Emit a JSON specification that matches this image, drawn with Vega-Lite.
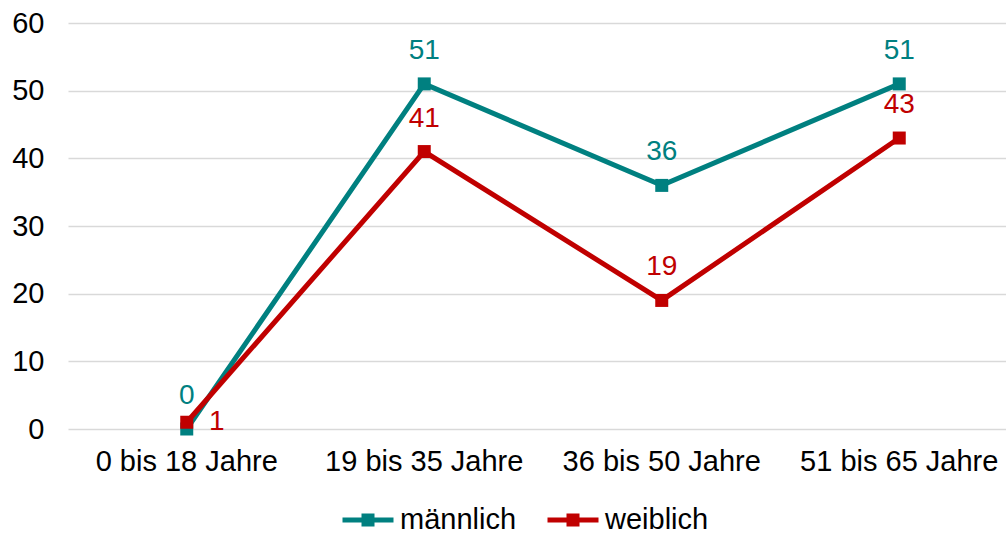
{
  "$schema": "https://vega.github.io/schema/vega-lite/v6.json",
  "width": 938,
  "height": 406,
  "autosize": {"type": "none"},
  "padding": {"left": 68, "top": 23, "right": 0, "bottom": 104},
  "background": "white",
  "config": {
    "font": "Liberation Sans",
    "view": {"stroke": null},
    "axis": {"labelFont": "Liberation Sans", "labelFontSize": 29, "labelColor": "#000000"}
  },
  "data": {
    "values": [
      {"gruppe": "0 bis 18 Jahre", "geschlecht": "männlich", "wert": 0},
      {"gruppe": "19 bis 35 Jahre", "geschlecht": "männlich", "wert": 51},
      {"gruppe": "36 bis 50 Jahre", "geschlecht": "männlich", "wert": 36},
      {"gruppe": "51 bis 65 Jahre", "geschlecht": "männlich", "wert": 51},
      {"gruppe": "0 bis 18 Jahre", "geschlecht": "weiblich", "wert": 1},
      {"gruppe": "19 bis 35 Jahre", "geschlecht": "weiblich", "wert": 41},
      {"gruppe": "36 bis 50 Jahre", "geschlecht": "weiblich", "wert": 19},
      {"gruppe": "51 bis 65 Jahre", "geschlecht": "weiblich", "wert": 43}
    ]
  },
  "encoding": {
    "x": {
      "field": "gruppe", "type": "nominal", "sort": null,
      "scale": {"type": "band", "range": [0, 950], "paddingInner": 0, "paddingOuter": 0},
      "axis": {"title": null, "labelAngle": 0, "ticks": false, "domain": false, "grid": false, "labelPadding": 18, "labelLimit": 0}
    },
    "y": {
      "field": "wert", "type": "quantitative",
      "scale": {"domain": [0, 60], "nice": false},
      "axis": {"title": null, "values": [0, 10, 20, 30, 40, 50, 60], "ticks": false, "domain": false, "labelPadding": 24, "gridColor": "#d9d9d9", "gridWidth": 1.5}
    },
    "color": {
      "field": "geschlecht", "type": "nominal",
      "scale": {"domain": ["männlich", "weiblich"], "range": ["#008080", "#c00000"]}
    }
  },
  "layer": [
    {
      "mark": {"type": "line", "strokeWidth": 5},
      "encoding": {
        "detail": {"field": "geschlecht"}
      }
    },
    {
      "mark": {"type": "point", "shape": "square", "filled": true, "opacity": 1, "size": 169},
      "encoding": {
        "color": {"field": "geschlecht", "type": "nominal", "legend": {
          "title": null,
          "orient": "none",
          "legendX": 272,
          "legendY": 469,
          "direction": "horizontal",
          "labelFont": "Liberation Sans",
          "labelFontSize": 29,
          "labelColor": "#000000",
          "labelOffset": 4,
          "labelLimit": 0,
          "columnPadding": 20,
          "symbolType": "M-1,0H1M-0.157,-0.157H0.157V0.157H-0.157Z",
          "symbolSize": 2601,
          "symbolStrokeWidth": 5,
          "encode": {
            "symbols": {"update": {"stroke": {"signal": "scale('color', datum.value)"}, "fill": {"signal": "scale('color', datum.value)"}, "strokeCap": {"value": "round"}}}
          }
        }}
      }
    },
    {
      "transform": [{"filter": "datum.geschlecht === 'männlich' || datum.wert > 1"}],
      "mark": {"type": "text", "dy": -33, "fontSize": 28, "font": "Liberation Sans"},
      "encoding": {"text": {"field": "wert", "type": "quantitative"}}
    },
    {
      "transform": [{"filter": "datum.geschlecht === 'weiblich' && datum.wert <= 1"}],
      "mark": {"type": "text", "dx": 30, "dy": 0, "fontSize": 28, "font": "Liberation Sans"},
      "encoding": {"text": {"field": "wert", "type": "quantitative"}}
    }
  ]
}
